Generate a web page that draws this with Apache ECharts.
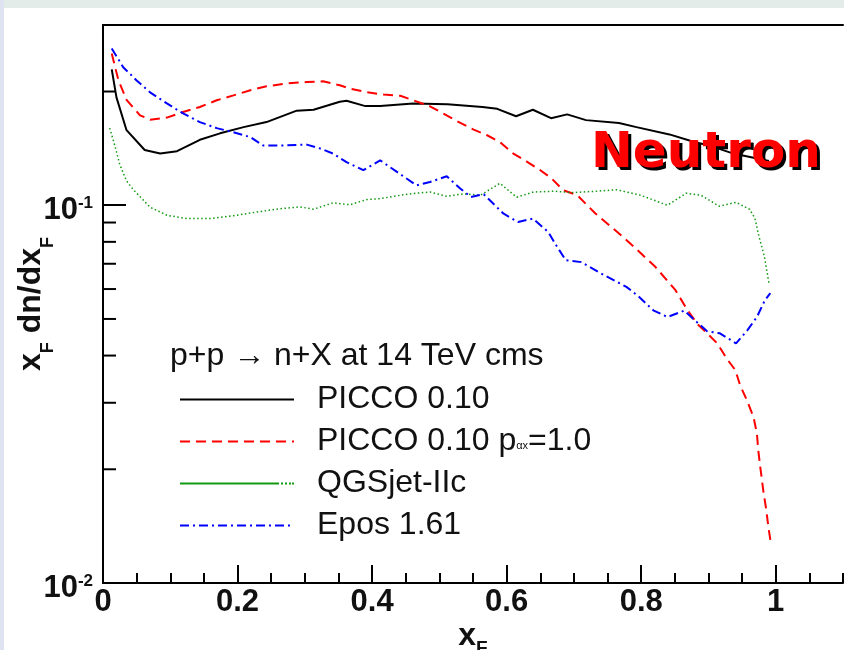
<!DOCTYPE html>
<html><head><meta charset="utf-8">
<script src="https://cdn.jsdelivr.net/npm/echarts@6/dist/echarts.min.js"></script>
<style>html,body{margin:0;padding:0;background:#fff}#c{width:844px;height:650px}</style>
</head><body><div id="c"></div>
<script>
// ---- data (x_F, x_F dn/dx_F) ----
const seriesNames = ['PICCO 0.10', 'PICCO 0.10 pαx=1.0', 'QGSjet-IIc', 'Epos 1.61'];

const picco010 = [[0.013,0.229],[0.020,0.193],[0.035,0.158],[0.062,0.140],[0.085,0.137],[0.110,0.139],[0.144,0.149],[0.174,0.155],[0.209,0.161],[0.243,0.166],[0.288,0.178],[0.313,0.179],[0.352,0.188],[0.362,0.189],[0.390,0.183],[0.412,0.183],[0.461,0.186],[0.512,0.185],[0.564,0.182],[0.586,0.180],[0.614,0.172],[0.639,0.179],[0.666,0.170],[0.690,0.174],[0.718,0.168],[0.767,0.165],[0.793,0.161],[0.842,0.154],[0.879,0.147],[0.901,0.144],[0.937,0.137],[0.990,0.131]];

const picco010pa = [[0.013,0.252],[0.023,0.214],[0.035,0.190],[0.055,0.173],[0.070,0.1685],[0.095,0.1706],[0.119,0.1765],[0.144,0.182],[0.169,0.1896],[0.194,0.1954],[0.219,0.2015],[0.243,0.2065],[0.273,0.210],[0.303,0.212],[0.327,0.2128],[0.352,0.2078],[0.367,0.2036],[0.392,0.1991],[0.417,0.1963],[0.442,0.1949],[0.461,0.1896],[0.486,0.1828],[0.506,0.1748],[0.526,0.1671],[0.551,0.1586],[0.571,0.1532],[0.590,0.147],[0.610,0.137],[0.630,0.1305],[0.650,0.1238],[0.667,0.1177],[0.684,0.1096],[0.705,0.1063],[0.732,0.0951],[0.767,0.0842],[0.792,0.0768],[0.821,0.0687],[0.851,0.0596],[0.867,0.0534],[0.883,0.0486],[0.898,0.0458],[0.913,0.0431],[0.927,0.0393],[0.940,0.0366],[0.947,0.0334],[0.957,0.0305],[0.967,0.0275],[0.972,0.0249],[0.974,0.0225],[0.977,0.0203],[0.982,0.0173],[0.986,0.0156],[0.989,0.0141],[0.992,0.0130]];

const qgsjet = [[0.010,0.160],[0.018,0.143],[0.025,0.128],[0.035,0.116],[0.045,0.110],[0.070,0.0988],[0.095,0.0941],[0.124,0.0922],[0.159,0.0922],[0.194,0.0938],[0.229,0.0960],[0.263,0.0979],[0.293,0.0990],[0.313,0.0976],[0.342,0.1015],[0.367,0.1003],[0.392,0.1035],[0.412,0.1041],[0.442,0.1063],[0.461,0.1074],[0.486,0.1084],[0.511,0.1056],[0.536,0.1072],[0.561,0.1063],[0.590,0.1143],[0.615,0.1050],[0.640,0.1084],[0.672,0.1089],[0.697,0.1080],[0.732,0.1089],[0.764,0.1099],[0.799,0.1063],[0.839,0.1000],[0.867,0.1076],[0.889,0.1063],[0.916,0.0994],[0.941,0.1018],[0.961,0.0976],[0.969,0.0924],[0.975,0.0828],[0.983,0.0733],[0.990,0.0621]];

const epos161 = [[0.013,0.260],[0.030,0.232],[0.050,0.214],[0.070,0.199],[0.095,0.186],[0.119,0.175],[0.144,0.166],[0.169,0.160],[0.194,0.156],[0.219,0.1515],[0.238,0.144],[0.268,0.144],[0.303,0.1447],[0.323,0.1413],[0.342,0.137],[0.362,0.130],[0.387,0.1238],[0.412,0.1315],[0.437,0.1225],[0.466,0.1129],[0.486,0.1152],[0.511,0.1193],[0.531,0.1107],[0.547,0.1052],[0.566,0.1069],[0.595,0.0951],[0.617,0.0903],[0.639,0.0922],[0.662,0.0849],[0.675,0.0776],[0.688,0.0715],[0.711,0.0707],[0.745,0.0653],[0.778,0.0608],[0.796,0.0574],[0.818,0.0527],[0.839,0.0506],[0.864,0.0526],[0.883,0.0490],[0.898,0.0464],[0.917,0.0458],[0.941,0.0431],[0.958,0.0467],[0.972,0.0506],[0.984,0.0561],[0.992,0.0585]];

// axis tick values / labels
const yMajorLabels = {'0.01': ['10', '-2'], '0.1': ['10', '-1']};
const yMinorTicks = [0.02, 0.03, 0.04, 0.05, 0.06, 0.07, 0.08, 0.09, 0.2];

const FONT = 'Liberation Sans';
const chart = echarts.init(document.getElementById('c'), null, {renderer: 'canvas'});

function yLabel(v) {
  for (const k in yMajorLabels) {
    if (Math.abs(v - parseFloat(k)) < 1e-9) return '{m|' + yMajorLabels[k][0] + '}{s|' + yMajorLabels[k][1] + '}';
  }
  return '';
}

const axisStroke = {color: '#000', width: 2};
const option = {
  backgroundColor: '#ffffff',
  animation: false,
  grid: {left: 103, top: 25, right: 1, bottom: 67, containLabel: false, outerBoundsMode: 'none'},
  xAxis: [
    {type: 'value', min: 0, max: 1.1, interval: 0.2, position: 'bottom',
     axisLine: {show: true, onZero: false, lineStyle: axisStroke},
     axisTick: {inside: true, length: 18, lineStyle: axisStroke},
     axisLabel: {margin: 4, showMaxLabel: false, fontFamily: FONT, fontWeight: 'bold', fontSize: 31, color: '#111'},
     splitLine: {show: false},
     name: '{m|x}{s|F}', nameLocation: 'middle', nameGap: 37, nameMoveOverlap: false,
     nameTextStyle: {rich: {
       m: {fontFamily: FONT, fontWeight: 'bold', fontSize: 32, lineHeight: 32, color: '#111'},
       s: {fontFamily: FONT, fontWeight: 'bold', fontSize: 19, lineHeight: 19, color: '#111', padding: [26, 0, 0, 0]}
     }}},
    {type: 'value', min: 0, max: 1.1, interval: 0.05, position: 'bottom',
     axisLine: {show: false}, axisTick: {inside: true, length: 10, lineStyle: axisStroke},
     axisLabel: {show: false}, splitLine: {show: false}},
    {type: 'value', min: 0, max: 1.1, position: 'top',
     axisLine: {show: true, onZero: false, lineStyle: axisStroke},
     axisTick: {show: false}, axisLabel: {show: false}, splitLine: {show: false}}
  ],
  yAxis: [
    {type: 'log', logBase: 10, min: 0.01, max: 0.3, position: 'left',
     axisLine: {show: true, onZero: false, lineStyle: axisStroke},
     axisTick: {inside: true, length: 23, lineStyle: axisStroke},
     axisLabel: {margin: 10, showMaxLabel: false, formatter: yLabel,
       rich: {
         m: {fontFamily: FONT, fontWeight: 'bold', fontSize: 31, lineHeight: 31, color: '#111', padding: [11, 0, 0, 0]},
         s: {fontFamily: FONT, fontWeight: 'bold', fontSize: 17, lineHeight: 17, color: '#111', padding: [0, 0, 3, 0]}
       }},
     splitLine: {show: false},
     name: '{m|x}{s|F}{m| dn/dx}{s|F}', nameLocation: 'middle', nameRotate: 90, nameGap: 56, nameMoveOverlap: false,
     nameTextStyle: {rich: {
       m: {fontFamily: FONT, fontWeight: 'bold', fontSize: 32, lineHeight: 32, color: '#111'},
       s: {fontFamily: FONT, fontWeight: 'bold', fontSize: 18, lineHeight: 18, color: '#111', padding: [34, 0, 0, 0]}
     }}}
  ],
  legend: {
    orient: 'vertical', left: 179, top: 383.5, padding: 0, itemGap: 10,
    itemWidth: 114, itemHeight: 14, selectedMode: false,
    itemStyle: {opacity: 0},
    data: [
      {name: seriesNames[0]},
      {name: seriesNames[1]},
      {name: seriesNames[2], icon: 'path://M0,0h99v2h-99z M101,0h2v2h-2z M105,0h2v2h-2z M109,0h2v2h-2z M112,0h2v2h-2z',
       itemStyle: {color: '#119911', borderWidth: 0, opacity: 1}},
      {name: seriesNames[3]}
    ],
    formatter: function (n) { return n === seriesNames[1] ? 'PICCO 0.10 p{s|αx}=1.0' : n; },
    textStyle: {fontFamily: FONT, fontSize: 32, lineHeight: 31, color: '#111', padding: [0, 0, 0, 18],
      rich: {s: {fontFamily: FONT, fontSize: 11, lineHeight: 11, color: '#111', padding: [8, 0, 0, 0]}}}
  },
  series: [
    {name: seriesNames[0], type: 'line', data: picco010, symbol: 'none', color: '#000000',
     lineStyle: {color: '#000000', width: 2}, z: 3},
    {name: seriesNames[1], type: 'line', data: picco010pa, symbol: 'none', color: '#ff0000',
     lineStyle: {color: '#ff0000', width: 2, type: [10, 6]}, z: 3},
    {name: seriesNames[2], type: 'line', data: qgsjet, symbol: 'none', color: '#119911',
     lineStyle: {color: '#119911', width: 1.5, type: [1.5, 2.5]}, z: 3},
    {name: seriesNames[3], type: 'line', data: epos161, symbol: 'none', color: '#0000ff',
     lineStyle: {color: '#0000ff', width: 2, type: [9, 4, 2, 4]}, z: 3},
    {name: 'yMinorTicks', type: 'custom', silent: true, z: 4,
     data: yMinorTicks.map(v => [0, v]),
     renderItem: function (params, api) {
       const p = api.coord([0, api.value(1)]);
       return {type: 'line', shape: {x1: p[0], y1: p[1], x2: p[0] + 13, y2: p[1]},
               style: {stroke: '#000', lineWidth: 2}};
     }}
  ],
  graphic: [
    {type: 'rect', left: 0, top: 0, z: 0, shape: {width: 844, height: 8}, style: {fill: '#e4ece9'}},
    {type: 'rect', left: 0, top: 0, z: 0, shape: {width: 4, height: 650}, style: {fill: '#dfe2f0'}},
    {type: 'text', x: 170, y: 356, z: 50,
     style: {text: 'p+p \u2192 n+X at 14 TeV cms', font: '32px "Liberation Sans"', fill: '#111', verticalAlign: 'middle', align: 'left'}},
    {type: 'text', x: 594, y: 157, z: 50,
     style: {text: 'Neutron', font: 'bold 50px "DejaVu Sans"', fill: '#000', verticalAlign: 'middle', align: 'left'}},
    {type: 'text', x: 591, y: 154, z: 51,
     style: {text: 'Neutron', font: 'bold 50px "DejaVu Sans"', fill: '#ff0000', verticalAlign: 'middle', align: 'left'}}
  ]
};
chart.setOption(option);
</script>
</body></html>
